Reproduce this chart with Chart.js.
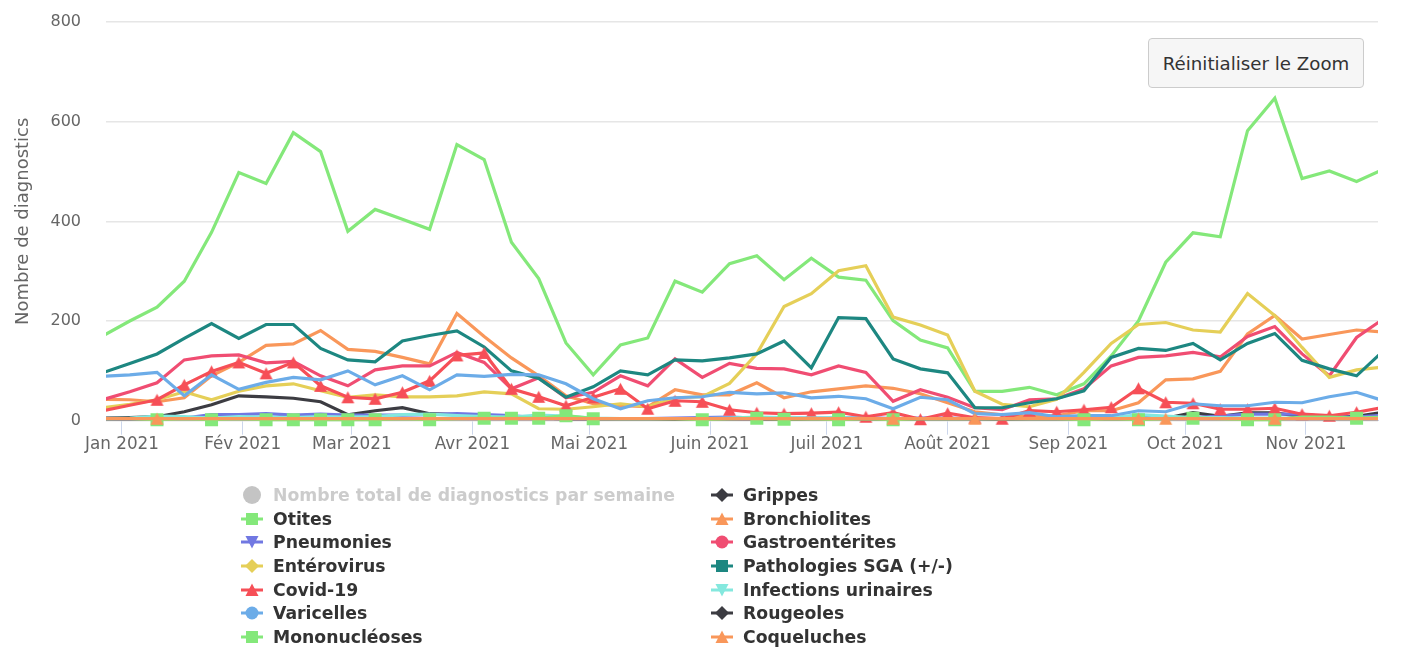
<!DOCTYPE html>
<html lang="fr">
<head>
<meta charset="utf-8">
<script src="https://cdn.jsdelivr.net/npm/chart.js@4/dist/chart.umd.min.js"></script>
<style>
html,body{margin:0;padding:0;background:#fff;}
#wrap{position:relative;width:1401px;height:665px;overflow:hidden;font-family:"DejaVu Sans",sans-serif;}
canvas#c{position:absolute;left:0;top:0;}
#reset{position:absolute;left:1148px;top:38px;width:216px;height:50px;box-sizing:border-box;background:#f6f6f6;border:1.5px solid #cccccc;border-radius:4px;color:#333;font:18.2px "DejaVu Sans",sans-serif;padding:0;}
#legend{position:absolute;left:241px;top:483px;display:grid;grid-template-columns:470px auto;grid-auto-rows:23.7px;font:bold 17.25px "DejaVu Sans",sans-serif;color:#333;white-space:nowrap;}
#legend .it{display:flex;align-items:center;height:23.7px;}
#legend svg{width:22px;height:22px;margin-right:10px;flex:none;}
#legend .off{color:#cccccc;}
</style>
</head>
<body>
<div id="wrap">
<canvas id="c" width="1401" height="665"></canvas>
<button id="reset">Réinitialiser le Zoom</button>
<div id="legend"></div>
</div>
<script>
// Week positions, in days counted from 1 Jan 2021
const weekDays = [-5,2,9,16,23,30,37,44,51,58,65,72,79,86,93,100,107,114,121,128,135,142,149,156,163,170,177,184,191,198,205,212,219,226,233,240,247,254,261,268,275,282,289,296,303,310,317,324];
const monthDays = [0,31,59,90,120,151,181,212,243,273,304];
const monthLabels = ["Jan 2021","Fév 2021","Mar 2021","Avr 2021","Mai 2021","Juin 2021","Juil 2021","Août 2021","Sep 2021","Oct 2021","Nov 2021"];
const yTitle = "Nombre de diagnostics";

const grippes = [5,6,8,18,32,50,48,45,38,12,20,26,14,12,7,6,5,4,4,4,4,3,4,4,4,3,4,4,4,3,4,4,4,3,4,4,4,4,4,5,16,9,16,16,8,5,9,17];
const otites = [170,200,228,280,378,498,476,578,540,380,424,404,384,554,524,358,285,156,92,152,166,280,258,315,331,283,326,288,282,201,162,146,59,59,67,52,74,130,200,318,377,369,582,647,486,501,480,505];
const bronchiolites = [43,42,38,46,90,117,151,154,181,143,139,127,114,215,169,126,90,50,34,30,28,62,52,52,76,46,58,64,70,65,54,36,18,12,8,10,20,20,36,82,84,99,174,211,164,173,182,178];
const pneumonies = [3,3,4,5,12,12,14,11,13,11,11,11,12,14,12,10,5,4,4,4,4,5,6,7,5,5,5,5,6,4,5,5,4,4,4,4,4,5,6,6,6,9,13,13,13,7,7,11];
const gastroenterites = [42,58,76,122,130,132,116,119,90,70,102,110,110,137,117,64,86,46,57,90,70,124,87,115,105,104,92,110,97,39,62,47,26,22,42,44,64,110,127,130,137,128,169,189,134,90,167,205];
const enterovirus = [26,33,42,58,42,59,70,74,60,47,52,48,48,50,58,54,24,23,28,34,28,46,48,75,134,229,255,301,311,208,192,172,59,33,28,43,97,155,193,197,182,178,255,211,147,87,102,108];
const pathologiesSGA = [96,115,134,165,195,165,193,193,145,122,118,160,171,180,148,100,85,47,68,100,92,122,120,126,134,160,106,207,205,124,104,96,26,26,36,44,60,127,145,141,155,122,155,175,121,104,90,141];
const covid19 = [20,31,42,72,99,117,95,117,70,47,44,57,80,131,136,64,48,30,47,64,24,40,38,22,16,14,15,17,8,16,3,15,6,4,20,18,22,27,65,37,35,23,23,25,13,10,17,27];
const infectionsUrinaires = [4,5,9,8,5,8,7,6,8,7,8,12,13,10,8,7,11,9,5,4,4,4,4,5,7,6,5,6,4,4,4,4,4,4,4,4,5,5,12,9,6,6,5,5,5,4,4,5];
const varicelles = [89,92,97,50,92,63,77,87,82,100,72,90,62,92,89,93,92,74,44,24,40,46,48,57,54,56,46,49,44,24,47,42,14,12,16,8,10,10,20,18,34,30,30,37,36,48,57,40];
const rougeoles = [4,4,4,4,4,4,4,4,4,4,4,4,4,4,4,4,4,4,4,4,4,4,4,4,4,4,4,4,4,4,4,4,4,4,4,4,4,4,4,4,4,4,4,4,4,4,4,4];
const mononucleoses = [4,4,2,4,2,4,2,2,2,2,2,4,2,4,5,5,5,10,4,4,4,4,2,4,5,3,4,2,4,2,4,4,4,4,4,4,2,4,2,4,5,4,2,2,7,7,5,7];
const coqueluches = [4,4,4,4,4,4,4,4,4,4,4,4,4,4,4,4,4,4,4,4,4,4,4,4,4,4,4,4,4,4,4,4,4,4,4,4,4,4,4,4,4,4,4,4,4,4,4,4];

// Weeks on which the picture shows a marker for the sparse series
const covidMarked = [2,3,4,5,6,7,8,9,10,11,12,13,14,15,16,17,18,19,20,21,22,23,24,25,26,27,28,29,30,31,32,33,34,35,36,37,38,39,40,41,42,43,44,45,46];
const mononucleosesMarked = [2,4,6,7,8,9,10,12,14,15,16,17,18,22,24,25,27,29,36,38,40,42,43,46];
const coqueluchesMarked = [2,29,32,38,39,43];

const GREEN="#84e87a",ORANGE="#f9975a",DARK="#3c3c42";

function triangleImage(color){
  const w=13,h=12,cv=document.createElement("canvas");
  cv.width=w+2;cv.height=h+2;
  const x=cv.getContext("2d");
  x.fillStyle=color;x.beginPath();
  x.moveTo(1+w/2,1);x.lineTo(1+w,1+h);x.lineTo(1,1+h);
  x.closePath();x.fill();
  return cv;
}
const pts=a=>a.map((v,i)=>({x:weekDays[i],y:v}));
const only=list=>ctx=>list.includes(ctx.dataIndex)?1:0;

const series=[
 {label:"Nombre total de diagnostics par semaine",data:[],color:"#c4c4c4",sym:"circle",hidden:true},
 {label:"Grippes",data:grippes,color:DARK,sym:"diamond"},
 {label:"Otites",data:otites,color:GREEN,sym:"square"},
 {label:"Bronchiolites",data:bronchiolites,color:ORANGE,sym:"triangle"},
 {label:"Pneumonies",data:pneumonies,color:"#7178e2",sym:"down"},
 {label:"Gastroentérites",data:gastroenterites,color:"#f04d72",sym:"circle"},
 {label:"Entérovirus",data:enterovirus,color:"#e5cf58",sym:"diamond"},
 {label:"Pathologies SGA (+/-)",data:pathologiesSGA,color:"#1d8781",sym:"square"},
 {label:"Covid-19",data:covid19,color:"#f64f57",sym:"triangle",marked:covidMarked},
 {label:"Infections urinaires",data:infectionsUrinaires,color:"#84e8de",sym:"down"},
 {label:"Varicelles",data:varicelles,color:"#6cace8",sym:"circle"},
 {label:"Rougeoles",data:rougeoles,color:DARK,sym:"diamond"},
 {label:"Mononucléoses",data:mononucleoses,color:GREEN,sym:"square",marked:mononucleosesMarked},
 {label:"Coqueluches",data:coqueluches,color:ORANGE,sym:"triangle",marked:coqueluchesMarked}
];

const datasets=series.map((s,i)=>{
  const d={label:s.label,data:pts(s.data),borderColor:s.color,backgroundColor:s.color,borderWidth:3.2,tension:0,
    fill:false,hidden:!!s.hidden,order:series.length-i,clip:{left:0,right:0,top:0,bottom:14},pointRadius:0,pointHoverRadius:0,pointBorderWidth:0};
  if(s.marked){
    const f=only(s.marked);
    if(s.sym==="square"){d.pointStyle="rect";d.pointRadius=c=>f(c)*9.2;}
    else{const img=triangleImage(s.color);d.pointRadius=c=>f(c)*7;d.pointStyle=c=>f(c)?img:false;}
  }
  return d;
});

function symbol(s){
  const c=11;let m="";
  if(s.sym==="circle")m=`<circle cx="${c}" cy="${c}" r="${s.hidden?9:6.5}"/>`;
  if(s.sym==="square")m=`<rect x="${c-6}" y="${c-6}" width="12" height="12"/>`;
  if(s.sym==="diamond")m=`<path d="M${c} ${c-7}L${c+7} ${c}L${c} ${c+7}L${c-7} ${c}Z"/>`;
  if(s.sym==="triangle")m=`<path d="M${c} ${c-6.5}L${c+6.5} ${c+6}L${c-6.5} ${c+6}Z"/>`;
  if(s.sym==="down")m=`<path d="M${c-6.5} ${c-6}L${c+6.5} ${c-6}L${c} ${c+6.5}Z"/>`;
  const line=s.hidden?"":`<rect x="0" y="${c-1.5}" width="22" height="3"/>`;
  return `<svg viewBox="0 0 22 22" fill="${s.color}">${line}${m}</svg>`;
}
document.getElementById("legend").innerHTML=series.map(s=>
  `<div class="it${s.hidden?" off":""}">${symbol(s)}<span>${s.label}</span></div>`).join("");

new Chart(document.getElementById("c"),{
  type:"line",
  data:{datasets},
  options:{
    responsive:false,animation:false,events:[],
    layout:{padding:{top:22,right:23,left:0,bottom:0}},
    plugins:{legend:{display:false},tooltip:{enabled:false},title:{display:false}},
    scales:{
      x:{type:"linear",min:-4.1,max:322.5,
        afterBuildTicks:s=>{s.ticks=monthDays.map(v=>({value:v}));},
        afterFit:s=>{s.height=244.3;s.paddingLeft=0;s.paddingRight=0;},
        border:{color:"#ccd6eb",width:1},
        grid:{color:"#ccd6eb",drawOnChartArea:false,drawTicks:true,tickLength:14,lineWidth:1},
        ticks:{autoSkip:false,maxRotation:0,minRotation:0,padding:0,color:"#666",font:{family:"DejaVu Sans",size:16.8},
          callback:v=>monthLabels[monthDays.indexOf(v)]}
      },
      y:{min:0,max:800,
        afterFit:s=>{s.width=106;s.paddingTop=0;s.paddingBottom=0;},
        border:{display:false},
        grid:{color:"#e6e6e6",lineWidth:1.5,drawTicks:false},
        ticks:{stepSize:200,padding:25,color:"#666",font:{family:"DejaVu Sans",size:16}},
        title:{display:true,text:yTitle,color:"#666",font:{family:"DejaVu Sans",size:18,weight:"normal"},padding:{top:13,bottom:0}}
      }
    }
  }
});
</script>
</body>
</html>
